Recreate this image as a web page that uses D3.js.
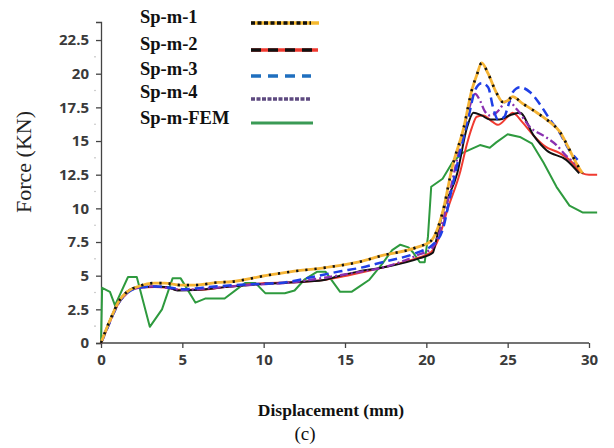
<!DOCTYPE html>
<html><head><meta charset="utf-8">
<script src="https://cdn.jsdelivr.net/npm/d3@7"></script>
<style>body{margin:0;background:#fff}svg{display:block}</style>
</head><body>
<svg id="c" width="614" height="448"></svg>
<script>
const xTicks = [0,5,10,15,20,25,30];
const yTicks = [0,2.5,5,7.5,10,12.5,15,17.5,20,22.5];
const seriesNames = ["Sp-m-1","Sp-m-2","Sp-m-3","Sp-m-4","Sp-m-FEM"];

const sp1 = [[0,0],[0.25,0.8],[0.7,2.1],[1.05,3.0],[1.6,3.8],[2.3,4.2],[3.3,4.45],[3.9,4.45],[4.9,4.3],[5.8,4.3],[7.2,4.5],[8.0,4.55],[10.1,5.0],[11.7,5.3],[13.8,5.6],[15.8,6.0],[17.3,6.5],[19.4,7.1],[20.3,7.6],[21.0,9.7],[21.6,13.1],[22.3,16.0],[22.8,18.8],[23.1,19.9],[23.4,20.8],[23.8,20.0],[24.3,18.6],[24.7,17.9],[25.0,18.0],[25.3,18.3],[25.9,17.8],[26.8,17.1],[27.6,16.4],[28.2,15.7],[28.7,14.6],[29.2,13.4],[29.6,12.6]];
const sp2 = [[0,0],[0.25,0.7],[0.7,2.0],[1.05,2.9],[1.6,3.7],[2.3,4.1],[3.3,4.15],[4.1,4.1],[4.7,3.95],[6,3.95],[7.6,4.15],[10.1,4.45],[12.5,4.55],[13.8,4.7],[15.3,5.05],[17.3,5.6],[19.4,6.3],[20.3,6.75],[20.8,7.9],[21.3,9.9],[22.1,12.8],[22.5,14.8],[22.8,16.0],[23.1,16.8],[23.5,16.9],[24.1,16.4],[24.4,16.2],[25.0,16.8],[25.3,17.1],[25.9,16.4],[26.6,15.4],[27.3,14.6],[28.2,14.1],[28.8,13.6],[29.6,12.6],[30.0,12.5],[30.5,12.5]];
const sp2Dash = [[0,0],[0.25,0.8],[0.7,2.1],[1.05,3.0],[1.6,3.8],[2.3,4.15],[3.3,4.2],[4.1,4.15],[4.7,3.9],[6,3.95],[7.6,4.15],[10.1,4.4],[12.5,4.55],[13.8,4.7],[14.4,4.9],[15.8,5.3],[17.3,5.6],[19.6,6.3],[20.4,6.7],[20.6,7.6],[21.0,9.7],[21.9,12.6],[22.5,16.0],[22.9,17.1],[23.4,16.9],[23.9,16.6],[24.5,16.6],[25.1,16.9],[25.75,17.1],[26.6,15.4],[27.4,14.3],[28.6,13.6],[29.4,12.6]];
const sp3 = [[0,0],[0.25,0.7],[0.7,2.0],[1.05,2.9],[1.6,3.7],[2.3,4.1],[3.3,4.2],[4.3,4.1],[5,4.0],[7,4.2],[9,4.35],[11.3,4.5],[13.0,4.9],[14.6,5.3],[16.0,5.6],[17.3,6.0],[19.4,6.7],[20.4,7.3],[21.0,8.4],[21.5,11.1],[22.1,14.3],[22.6,16.8],[23.0,18.8],[23.4,19.3],[23.8,19.0],[24.1,17.5],[24.4,16.6],[24.8,16.8],[25.0,17.5],[25.3,18.6],[25.75,19.0],[26.4,18.6],[27.0,17.7],[27.6,16.6],[28.2,15.6],[28.8,14.3],[29.3,13.6]];
const sp4 = [[0,0],[0.25,0.7],[0.7,2.0],[1.05,2.9],[1.6,3.7],[2.3,4.1],[3.3,4.2],[4.3,4.05],[5,3.95],[7,4.1],[9,4.3],[11.7,4.5],[14,4.9],[16,5.3],[17.3,5.6],[19.4,6.5],[20.4,7.1],[21.0,9.0],[21.5,11.5],[22.1,14.8],[22.6,17.3],[23.0,18.5],[23.3,18.0],[23.6,17.2],[23.9,16.9],[24.3,17.1],[25.0,18.0],[25.6,17.3],[26.4,16.0],[27.2,15.4],[28.0,14.7],[28.6,13.9],[29.3,13.2]];
const fem = [[0,0],[0.07,4.1],[0.55,3.8],[0.86,2.8],[1.66,4.9],[2.2,4.9],[3.0,1.2],[3.75,2.5],[4.4,4.8],[4.9,4.8],[5.8,3.0],[6.4,3.3],[7.6,3.3],[8.85,4.45],[9.5,4.45],[10.1,3.7],[11.3,3.7],[11.9,3.9],[12.5,4.7],[13.3,5.3],[13.8,5.3],[14.7,3.8],[15.4,3.8],[15.9,4.2],[16.5,4.7],[17.3,5.9],[17.9,6.9],[18.4,7.3],[18.9,7.1],[19.2,6.7],[19.6,6.0],[19.9,6.0],[20.1,7.9],[20.3,11.6],[21.0,12.2],[21.6,13.4],[22.2,14.1],[23.3,14.7],[23.9,14.5],[24.3,14.9],[25.0,15.5],[25.75,15.3],[26.5,14.8],[27.2,13.4],[28.0,11.6],[28.8,10.2],[29.6,9.7],[30.5,9.7]];

const svg = d3.select("#c");
const x = d3.scaleLinear().domain([0,30]).range([101,589]);
const y = d3.scaleLinear().domain([0,23.84]).range([343,22]);

// axes
const tickFont = "'Open Sans', 'DejaVu Sans', sans-serif";
const yAx = svg.append("g").attr("transform","translate(101,0)")
  .call(d3.axisLeft(y).tickValues(yTicks).tickSize(5).tickPadding(7).tickFormat(d=>d3.format("")(d)));
const xAx = svg.append("g").attr("transform","translate(0,343)")
  .call(d3.axisBottom(x).tickValues(xTicks).tickSize(5).tickPadding(6));
[yAx,xAx].forEach(g=>{
  g.select(".domain").attr("stroke","#444").attr("stroke-width",1.3);
  g.selectAll(".tick line").attr("stroke","#444").attr("stroke-width",1.3);
  g.selectAll("text").attr("font-family",tickFont).attr("font-weight","bold")
   .attr("font-size",15).attr("fill","#3a3a3a");
});
xAx.select(".domain").attr("d","M101,0H589");
// faint minor ticks on the y axis
svg.append("g").selectAll("circle").data(d3.range(1.25,23,2.5)).join("circle")
  .attr("cx",95).attr("cy",d=>y(d)).attr("r",0.8).attr("fill","#bbb");

const line = d3.line().x(d=>x(d[0])).y(d=>y(d[1])).curve(d3.curveMonotoneX);
const lineLin = d3.line().x(d=>x(d[0])).y(d=>y(d[1])).curve(d3.curveLinear);
const plot = svg.append("g").attr("fill","none").attr("stroke-linejoin","round");

plot.append("path").attr("d",lineLin(fem)).attr("stroke","#2e9a3e").attr("stroke-width",2);
plot.append("path").attr("d",line(sp2)).attr("stroke","#f03a30").attr("stroke-width",2);
plot.append("path").attr("d",line(sp2Dash)).attr("stroke","#111").attr("stroke-width",2);
plot.append("path").attr("d",line(sp4)).attr("stroke","#8a30b0").attr("stroke-width",2.3).attr("stroke-dasharray","8,3,2,3");
plot.append("path").attr("d",line(sp3)).attr("stroke","#1f3fe6").attr("stroke-width",2.5).attr("stroke-dasharray","9,5");
plot.append("path").attr("d",line(sp1)).attr("stroke","#f5b435").attr("stroke-width",2.8);
plot.append("path").attr("d",line(sp1)).attr("stroke","#111").attr("stroke-width",2.6).attr("stroke-dasharray","2.2,7");

// legend
const legY = [23,50,75,98,124];
const leg = svg.append("g");
leg.selectAll("text").data(seriesNames).join("text")
  .attr("x",140).attr("y",(d,i)=>legY[i])
  .attr("font-family","'Liberation Serif','Times New Roman',serif").attr("font-weight","bold")
  .attr("font-size",18.5).attr("fill","#111").text(d=>d);
const lg = leg.append("g").attr("fill","none");
lg.append("line").attr("x1",251).attr("x2",319).attr("y1",23).attr("y2",23).attr("stroke","#f5b82e").attr("stroke-width",3.5);
lg.append("line").attr("x1",251).attr("x2",311).attr("y1",23).attr("y2",23).attr("stroke","#111").attr("stroke-width",3.5).attr("stroke-dasharray","4,2.5");
lg.append("line").attr("x1",251).attr("x2",318).attr("y1",50).attr("y2",50).attr("stroke","#f03a30").attr("stroke-width",3.5);
lg.append("line").attr("x1",251).attr("x2",318).attr("y1",50).attr("y2",50).attr("stroke","#111").attr("stroke-width",3.5).attr("stroke-dasharray","10,7");
lg.append("line").attr("x1",251).attr("x2",311).attr("y1",76).attr("y2",76).attr("stroke","#1f6fbf").attr("stroke-width",3.5).attr("stroke-dasharray","10,7");
lg.append("line").attr("x1",251).attr("x2",311).attr("y1",99).attr("y2",99).attr("stroke","#5e4a80").attr("stroke-width",3.5).attr("stroke-dasharray","4,1.5");
lg.append("line").attr("x1",251).attr("x2",313).attr("y1",123).attr("y2",123).attr("stroke","#3a9a55").attr("stroke-width",3);

// axis titles
svg.append("text").attr("transform","translate(31,162) rotate(-90)").attr("text-anchor","middle")
  .attr("font-family","'Liberation Serif','Times New Roman',serif").attr("font-size",22).attr("fill","#222")
  .text("Force (KN)");
svg.append("text").attr("x",331).attr("y",416).attr("text-anchor","middle")
  .attr("font-family","'Liberation Serif','Times New Roman',serif").attr("font-weight","bold").attr("font-size",17.5)
  .attr("fill","#111").text("Displacement (mm)");
svg.append("text").attr("x",305).attr("y",440).attr("text-anchor","middle")
  .attr("font-family","'Liberation Serif','Times New Roman',serif").attr("font-size",19)
  .attr("fill","#111").text("(c)");
</script>
</body></html>
